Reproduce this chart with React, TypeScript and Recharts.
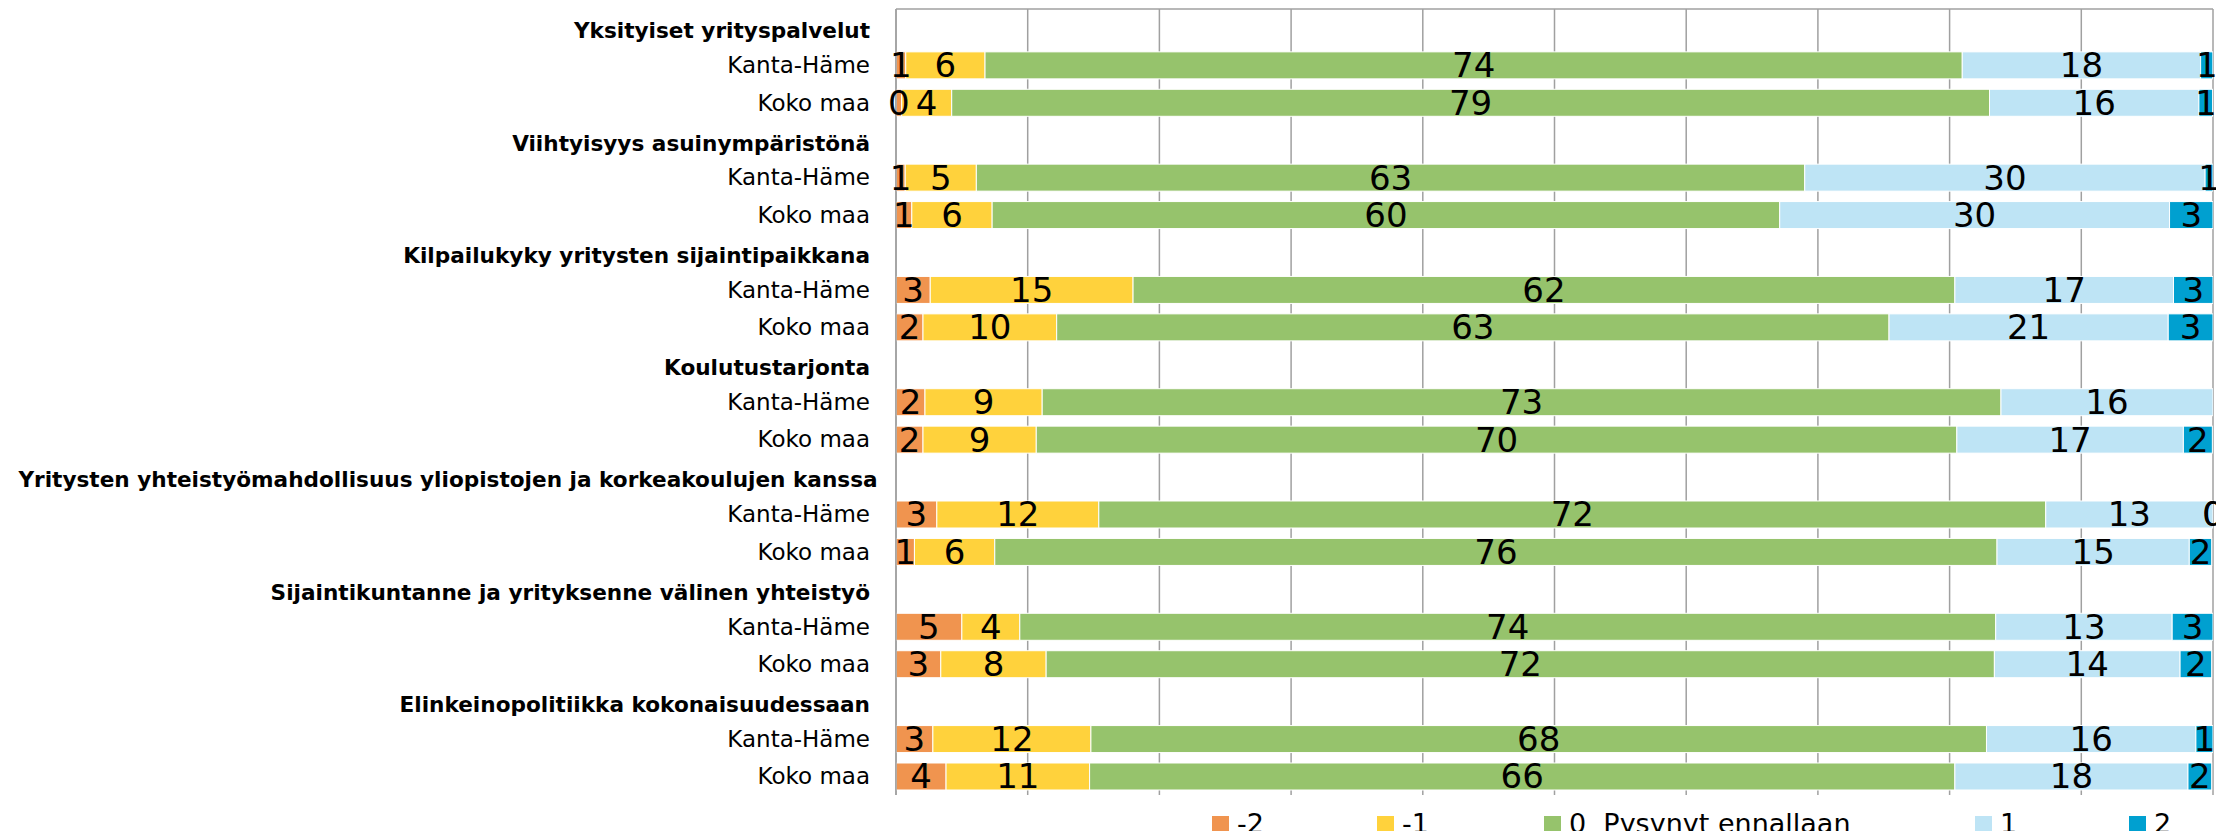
import React from 'react';
import { BarChart, Bar, XAxis, YAxis, CartesianGrid, Legend, LabelList } from 'recharts';

const groups = [
  'Yksityiset yrityspalvelut',
  'Viihtyisyys asuinympäristönä',
  'Kilpailukyky yritysten sijaintipaikkana',
  'Koulutustarjonta',
  'Yritysten yhteistyömahdollisuus yliopistojen ja korkeakoulujen kanssa',
  'Sijaintikuntanne ja yrityksenne välinen yhteistyö',
  'Elinkeinopolitiikka kokonaisuudessaan',
];
const regions = ['Kanta-Häme', 'Koko maa'];
const seriesNames = ['-2', '-1', '0  Pysynyt ennallaan', '1', '2'];
const seriesColors = ['#F0944F', '#FFD23C', '#96C36C', '#BEE4F5', '#00A0D0'];

// row order: group0 Kanta-Häme, group0 Koko maa, group1 Kanta-Häme, ...
const minus2 = [0.74, 0.43, 0.7, 1.2, 2.6, 2.05, 2.2, 2.05, 3.1, 1.4, 5.0, 3.4, 2.8, 3.8];
const minus1 = [6.02, 3.8, 5.4, 6.1, 15.4, 10.15, 8.9, 8.6, 12.3, 6.1, 4.4, 8.0, 12.0, 10.9];
const zero = [74.2, 78.8, 62.9, 59.8, 62.4, 63.2, 72.8, 69.9, 71.9, 76.1, 74.1, 72.0, 68.0, 65.7];
const plus1 = [18.1, 15.9, 30.4, 29.6, 16.6, 21.2, 16.1, 17.2, 12.7, 14.6, 13.4, 14.1, 15.9, 17.7];
const plus2: (number | null)[] = [0.93, 1.04, 0.6, 3.3, 3.0, 3.4, null, 2.2, 0, 1.7, 3.1, 2.4, 1.3, 1.8];
const xTicks = [0, 10, 20, 30, 40, 50, 60, 70, 80, 90, 100];

const seriesValues = [minus2, minus1, zero, plus1, plus2];
const seriesKeys = ['s0', 's1', 's2', 's3', 's4'];

type Row = { id: string; label: string; header: boolean; [k: string]: any };
const rows: Row[] = [];
groups.forEach((g, gi) => {
  rows.push({ id: `h${gi}`, label: g, header: true });
  regions.forEach((r, ri) => {
    const i = gi * 2 + ri;
    const row: Row = { id: `r${i}`, label: r, header: false };
    seriesKeys.forEach((k, si) => {
      row[k] = seriesValues[si][i];
    });
    rows.push(row);
  });
});
const rowById = new Map(rows.map((r) => [r.id, r]));

const FONT = '"DejaVu Sans", sans-serif';
const GRID = '#A0A0A0';
const LABEL_SIZE = 34;

function YTick(props: any) {
  const { x, y, payload } = props;
  const row = rowById.get(payload.value);
  if (!row) return null;
  if (row.header) {
    const long = row.label.length > 60;
    return (
      <text
        x={long ? (x + 26) / 2 : x}
        y={y + 3}
        textAnchor={long ? 'middle' : 'end'}
        dominantBaseline="central"
        fontFamily={FONT}
        fontWeight="bold"
        fontSize={21.6}
        fill="#000"
      >
        {row.label}
      </text>
    );
  }
  return (
    <text x={x} y={y} textAnchor="end" dominantBaseline="central" fontFamily={FONT} fontSize={23} fill="#000">
      {row.label}
    </text>
  );
}

function ValueText({ cx, cy, value }: { cx: number; cy: number; value: number }) {
  return (
    <text x={cx} y={cy} textAnchor="middle" dominantBaseline="central" fontFamily={FONT} fontSize={LABEL_SIZE} fill="#000">
      {String(Math.round(value))}
    </text>
  );
}

function renderValueLabel(props: any) {
  const { x, y, width, height, value } = props;
  if (value === null || value === undefined) return null;
  return <ValueText cx={Number(x) + Number(width) / 2} cy={Number(y) + Number(height) / 2} value={Number(value)} />;
}

function makeShape(key: string) {
  return (props: any) => {
    const { x, y, width, height, fill, payload } = props;
    const v = payload ? payload[key] : null;
    const w = Number(width) || 0;
    const h = Number(height) || 0;
    return (
      <g>
        {w > 0 && h > 0 ? (
          <rect x={x} y={y} width={w} height={h} fill={fill} stroke="#ffffff" strokeWidth={1} />
        ) : null}
        {v === 0 && w === 0 ? <ValueText cx={Number(x)} cy={Number(y) + h / 2} value={0} /> : null}
      </g>
    );
  };
}

const legendWidths = [165, 167, 431, 154, 60];

function LegendContent() {
  return (
    <div style={{ display: 'flex', alignItems: 'center', height: 34, fontFamily: FONT, fontSize: 27, color: '#000' }}>
      {seriesNames.map((n, i) => (
        <div key={n} style={{ display: 'flex', alignItems: 'center', width: legendWidths[i], flexShrink: 0 }}>
          <span style={{ display: 'inline-block', width: 17, height: 17, background: seriesColors[i], marginRight: 8, flexShrink: 0 }} />
          <span style={{ whiteSpace: 'pre', lineHeight: '34px' }}>{n}</span>
        </div>
      ))}
    </div>
  );
}

function verticalLines({ xAxis, offset }: any) {
  return xTicks.map((t) =>
    xAxis && typeof xAxis.scale === 'function' ? xAxis.scale(t) : offset.left + (offset.width * t) / 100,
  );
}

export default function App() {
  return (
    <div style={{ width: 2224, height: 839, margin: -8, overflow: 'hidden' }}>
      <BarChart
        width={2224}
        height={839}
        data={rows}
        layout="vertical"
        margin={{ top: 9, right: 11, bottom: 44, left: 0 }}
        barCategoryGap="14.5%"
      >
        <CartesianGrid
          stroke={GRID}
          strokeWidth={1.5}
          vertical={true}
          horizontal={true}
          verticalCoordinatesGenerator={verticalLines}
          horizontalCoordinatesGenerator={({ offset }: any) => [offset.top]}
        />
        <XAxis
          type="number"
          domain={[0, 100]}
          ticks={xTicks}
          tick={false}
          tickLine={false}
          height={0}
          axisLine={{ stroke: GRID, strokeWidth: 2 }}
          allowDataOverflow
        />
        <YAxis
          type="category"
          dataKey="id"
          width={896}
          interval={0}
          tickLine={false}
          tickSize={0}
          tickMargin={26}
          axisLine={{ stroke: GRID, strokeWidth: 1.5 }}
          tick={<YTick />}
        />
        <Legend
          layout="horizontal"
          verticalAlign="middle"
          align="center"
          wrapperStyle={{ top: 807, left: 1212, width: 1100 }}
          content={<LegendContent />}
        />
        {seriesKeys.map((k, i) => (
          <Bar
            key={k}
            dataKey={k}
            name={seriesNames[i]}
            stackId="a"
            fill={seriesColors[i]}
            shape={makeShape(k)}
            isAnimationActive={false}
          >
            <LabelList dataKey={k} content={renderValueLabel} />
          </Bar>
        ))}
      </BarChart>
    </div>
  );
}
